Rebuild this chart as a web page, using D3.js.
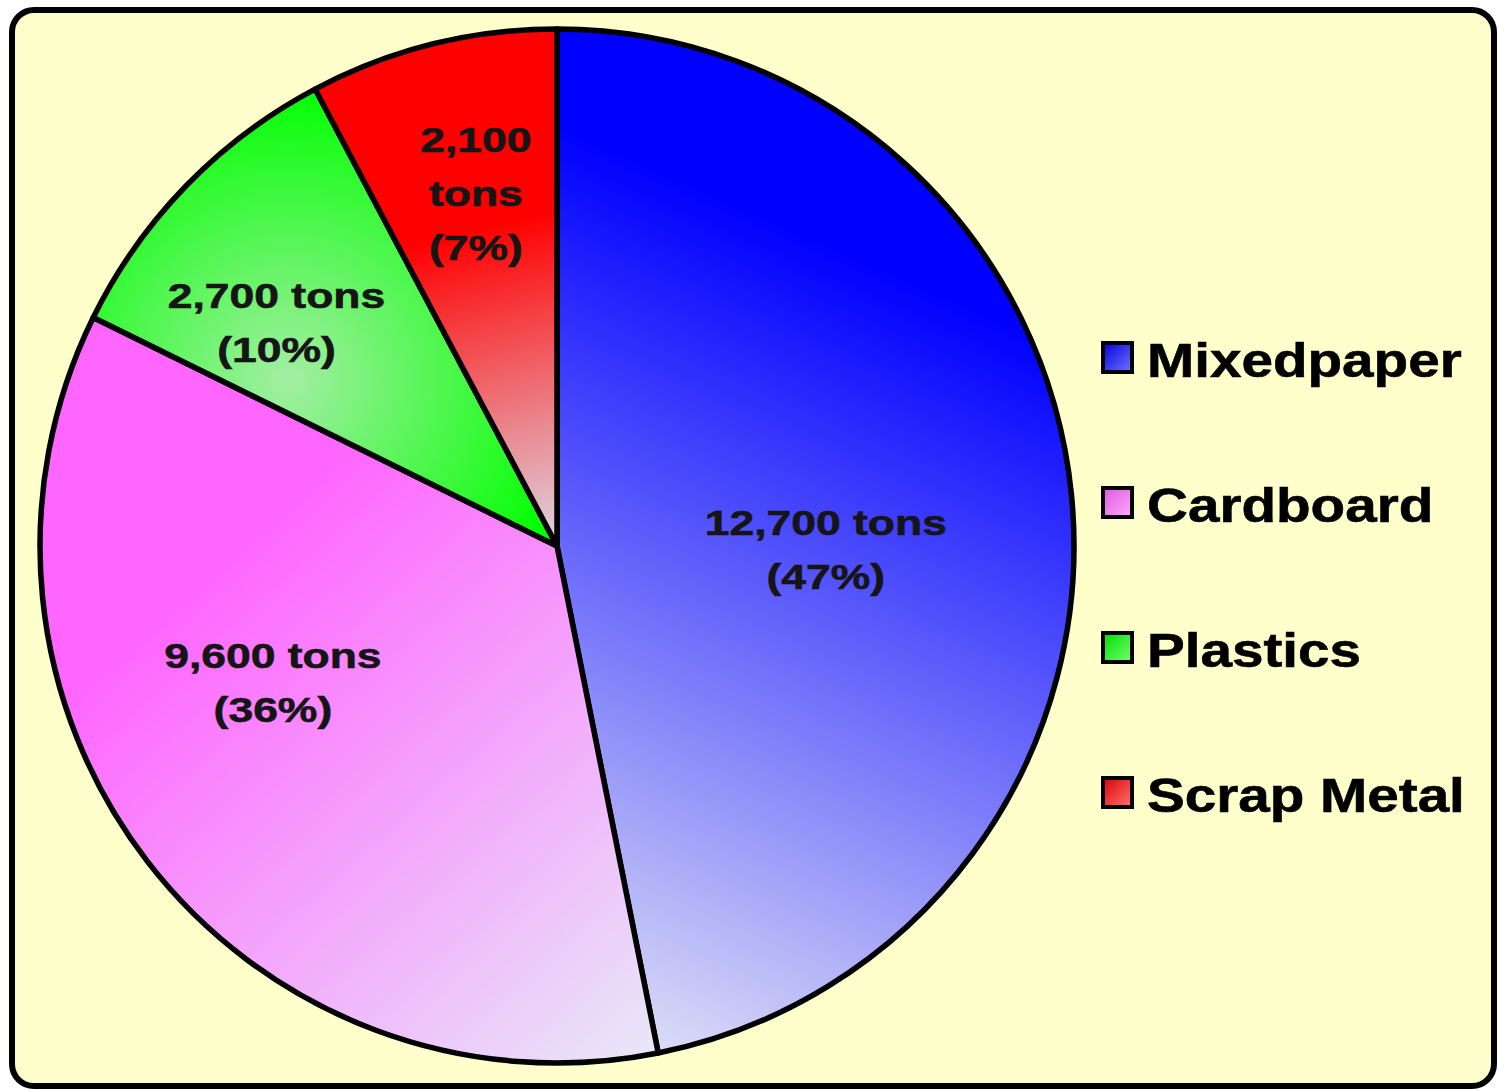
<!DOCTYPE html>
<html>
<head>
<meta charset="utf-8">
<script src="https://cdn.jsdelivr.net/npm/d3@7"></script>
<style>
	body { margin: 0; background: #fff; }
	svg { display: block; }
</style>
</head>
<body>
<div id="chart"></div>
<script>
// Chart data
const categories = ["Mixedpaper", "Cardboard", "Plastics", "Scrap Metal"];
const tons = [12700, 9600, 2700, 2100];
const percentLabels = ["47%", "36%", "10%", "7%"];

// Colours (dark -> light) per category
const darkColors = ["#0000ff", "#ff66ff", "#00ff00", "#ff0000"];
const lightColors = ["#e2e2f6", "#e8e6f8", "#a4eea4", "#ded6e2"];

const width = 1498, height = 1090;
const cx = 557, cy = 546, radius = 517;

const svg = d3.select("#chart").append("svg")
	.attr("width", width)
	.attr("height", height);

const defs = svg.append("defs");

// background panel
svg.append("rect")
	.attr("x", 12).attr("y", 10)
	.attr("width", 1482).attr("height", 1076)
	.attr("rx", 22)
	.attr("fill", "#ffffcc")
	.attr("stroke", "#000")
	.attr("stroke-width", 6);

// gradient geometry for each slice, in radius units from the pie centre
// (slices live inside the translated group, so user space is centred)
const sliceGrad = [
	{ type: "linear", from: [0.76, -0.57], to: [0.08, 0.975], hold: 0.05 },
	{ type: "linear", from: [-0.85, -0.16], to: [0.17, 0.975], hold: 0.18 },
	{ type: "radial", c: [-0.52, -0.32], r: 0.58 },
	{ type: "linear", from: [-0.17, -0.61], to: [-0.02, 0.0], hold: 0 }
];

sliceGrad.forEach((g, i) => {
	let grad;
	if (g.type === "linear") {
		grad = defs.append("linearGradient")
			.attr("id", "slice" + i)
			.attr("gradientUnits", "userSpaceOnUse")
			.attr("x1", g.from[0] * radius).attr("y1", g.from[1] * radius)
			.attr("x2", g.to[0] * radius).attr("y2", g.to[1] * radius);
		grad.append("stop").attr("offset", 0).attr("stop-color", darkColors[i]);
		grad.append("stop").attr("offset", g.hold).attr("stop-color", darkColors[i]);
		grad.append("stop").attr("offset", 1).attr("stop-color", lightColors[i]);
	} else {
		grad = defs.append("radialGradient")
			.attr("id", "slice" + i)
			.attr("gradientUnits", "userSpaceOnUse")
			.attr("cx", g.c[0] * radius).attr("cy", g.c[1] * radius)
			.attr("r", g.r * radius);
		grad.append("stop").attr("offset", 0).attr("stop-color", lightColors[i]);
		grad.append("stop").attr("offset", 1).attr("stop-color", darkColors[i]);
	}

	// small legend swatch gradient
	const lg = defs.append("linearGradient")
		.attr("id", "swatch" + i)
		.attr("x1", 0).attr("y1", 0).attr("x2", 1).attr("y2", 1);
	lg.append("stop").attr("offset", 0).attr("stop-color", d3.color(darkColors[i]).darker(0.4));
	lg.append("stop").attr("offset", 1).attr("stop-color", d3.interpolateRgb(darkColors[i], "#ffffff")(0.45));
});

// pie
const pie = d3.pie().sort(null).value(d => d);
const arcs = pie(tons);
const arc = d3.arc().innerRadius(0).outerRadius(radius);

const pieG = svg.append("g").attr("transform", `translate(${cx},${cy})`);

pieG.selectAll("path.slice")
	.data(arcs)
	.enter()
	.append("path")
	.attr("class", "slice")
	.attr("d", arc)
	.attr("fill", (d, i) => `url(#slice${i})`)
	.attr("stroke", "#000")
	.attr("stroke-width", 5.5)
	.attr("stroke-linejoin", "round");

// label placement: radius factor and angle nudge (degrees) from slice middle
const labelPlace = [
	{ r: 0.52, da: 6.3 },
	{ r: 0.61, da: 11.8 },
	{ r: 0.694, da: -5.6 },
	{ r: 0.70, da: 1 }
];
const lineGap = 54;
const capH = 25;

arcs.forEach((d, i) => {
	const mid = (d.startAngle + d.endAngle) / 2 + labelPlace[i].da * Math.PI / 180;
	const lr = labelPlace[i].r * radius;
	const x = Math.sin(mid) * lr;
	const y = -Math.cos(mid) * lr;

	const tonsText = d3.format(",")(tons[i]);
	// narrow slices get the unit on its own line
	const narrow = (d.endAngle - d.startAngle) < 0.5;
	const lines = narrow
		? [tonsText, "tons", `(${percentLabels[i]})`]
		: [tonsText + " tons", `(${percentLabels[i]})`];

	const firstBase = capH / 2 - (lines.length - 1) * lineGap / 2;

	const g = pieG.append("g")
		.attr("transform", `translate(${x},${y}) scale(1.27,1)`);

	g.selectAll("text")
		.data(lines)
		.enter()
		.append("text")
		.attr("x", 0)
		.attr("y", (t, k) => firstBase + k * lineGap)
		.attr("text-anchor", "middle")
		.style("font-family", "'Liberation Sans', Arial, sans-serif")
		.style("font-weight", "bold")
		.style("font-size", "35px")
		.style("fill", "#151515")
		.style("stroke", "#151515")
		.style("stroke-width", 0.6)
		.text(t => t);
});

// legend
const legend = svg.append("g")
	.attr("class", "legend")
	.attr("transform", "translate(1103, 377)");

categories.forEach((name, i) => {
	const item = legend.append("g")
		.attr("transform", `translate(0, ${i * 145})`);

	item.append("rect")
		.attr("x", 0)
		.attr("y", -34)
		.attr("width", 29)
		.attr("height", 29)
		.attr("fill", `url(#swatch${i})`)
		.attr("stroke", "#000")
		.attr("stroke-width", 4);

	item.append("text")
		.attr("transform", "translate(44,0) scale(1.18,1)")
		.style("font-family", "'Liberation Sans', Arial, sans-serif")
		.style("font-weight", "bold")
		.style("font-size", "48px")
		.style("fill", "#000")
		.style("stroke", "#000")
		.style("stroke-width", 0.6)
		.text(name);
});
</script>
</body>
</html>
